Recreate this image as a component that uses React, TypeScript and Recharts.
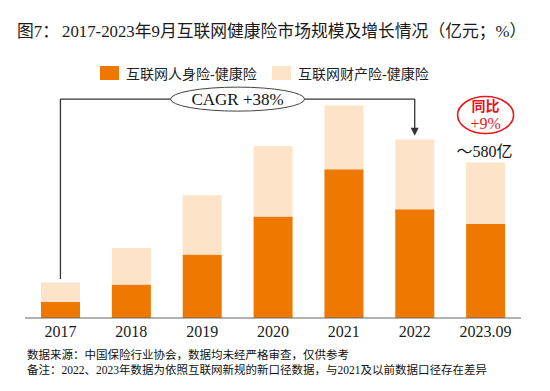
import React from 'react';
import { BarChart, Bar, XAxis, YAxis, ReferenceLine, ReferenceDot } from 'recharts';

// Categories
const years = ['2017', '2018', '2019', '2020', '2021', '2022', '2023.09'];
// 互联网人身险-健康险 (亿元)
const lifeHealth = [60, 125, 237, 378, 555, 405, 350];
// 互联网财产险-健康险 (亿元)
const propertyHealth = [72, 136, 221, 263, 237, 260, 230];

// Series names
const seriesNames = ['互联网人身险-健康险', '互联网财产险-健康险'];

// Annotation anchor values (data units)
const cagrStartValue = 145;
const cagrLineValue = 816;
const cagrArrowValue = 679;
const yoyValue = 751;
const totalLabelValue = 621;

const titlePrefix = '图7：';
const titleMain = '2017-2023年9月互联网健康险市场规模及增长情况（亿元；%）';
const note1 = '数据来源：中国保险行业协会，数据均未经严格审查，仅供参考';
const note2 = '备注：2022、2023年数据为依照互联网新规的新口径数据，与2021及以前数据口径存在差异';

const ORANGE = '#EF7800';
const LIGHT = '#FDE4C9';
const SERIF = "'Liberation Serif', 'Noto Sans CJK SC', serif";

const data = years.map((y, i) => ({ year: y, life: lifeHealth[i], property: propertyHealth[i] }));

const VLine = (props: any) => {
  const { x1, y1, x2, y2 } = props;
  return <line x1={x1} y1={y1} x2={x2} y2={y2} stroke="#333" strokeWidth={1.3} />;
};

const HLineWithOval = (props: any) => {
  const { x1, y1, x2, y2 } = props;
  const cx = (x1 + x2) / 2;
  return (
    <g>
      <line x1={x1} y1={y1} x2={x2} y2={y2} stroke="#333" strokeWidth={1.3} />
      <ellipse cx={cx} cy={y1} rx={67} ry={12} fill="#fff" stroke="#444" strokeWidth={1} />
      <text x={cx} y={y1} textAnchor="middle" dominantBaseline="central" fontSize={17} fontFamily={SERIF} fill="#111">
        CAGR +38%
      </text>
    </g>
  );
};

const ArrowLine = (props: any) => {
  const { x1, y1, x2, y2 } = props;
  return (
    <g>
      <line x1={x1} y1={y1} x2={x2} y2={y2 - 6} stroke="#333" strokeWidth={1.3} />
      <polygon points={`${x2 - 4},${y2 - 8} ${x2 + 4},${y2 - 8} ${x2},${y2}`} fill="#333" />
    </g>
  );
};

const YoyBadge = (props: any) => {
  const { cx, cy } = props;
  return (
    <g>
      <ellipse cx={cx} cy={cy - 1.5} rx={28} ry={18.5} fill="none" stroke="#E8141C" strokeWidth={1.6} />
      <text x={cx} y={cy - 11.5} textAnchor="middle" dominantBaseline="central" fontSize={14} fontWeight="bold" fontFamily="'Noto Sans CJK SC', sans-serif" fill="#E8141C">
        同比
      </text>
      <text x={cx} y={cy + 6.6} textAnchor="middle" dominantBaseline="central" fontSize={16} fontFamily={SERIF} fill="#E8141C">
        +9%
      </text>
    </g>
  );
};

const TotalLabel = (props: any) => {
  const { cx, cy } = props;
  return (
    <text x={cx - 1} y={cy} textAnchor="middle" dominantBaseline="central" fontSize={16} fontFamily={SERIF} fill="#111">
      ～580亿
    </text>
  );
};

export default function App() {
  return (
    <div style={{ position: 'absolute', left: 0, top: 0, width: 550, height: 391, background: '#fff', fontFamily: SERIF, color: '#222' }}>
      <div style={{ position: 'absolute', left: 0, top: 0 }}>
        <BarChart width={550} height={391} data={data} margin={{ top: 90, right: 29, bottom: 43, left: 25 }}>
          <XAxis
            dataKey="year"
            height={30}
            axisLine={{ stroke: '#666', strokeWidth: 1 }}
            tickLine={false}
            tick={{ fill: '#1a1a1a', fontSize: 16, fontFamily: SERIF }}
            interval={0}
          />
          <YAxis hide domain={[0, 850]} />
          <Bar dataKey="life" name={seriesNames[0]} stackId="a" fill={ORANGE} barSize={39} isAnimationActive={false} />
          <Bar dataKey="property" name={seriesNames[1]} stackId="a" fill={LIGHT} barSize={39} isAnimationActive={false} />
          <ReferenceLine
            ifOverflow="visible"
            segment={[{ x: years[0], y: cagrStartValue }, { x: years[0], y: cagrLineValue }]}
            shape={VLine}
          />
          <ReferenceLine
            ifOverflow="visible"
            segment={[{ x: years[0], y: cagrLineValue }, { x: years[5], y: cagrLineValue }]}
            shape={HLineWithOval}
          />
          <ReferenceLine
            ifOverflow="visible"
            segment={[{ x: years[5], y: cagrLineValue }, { x: years[5], y: cagrArrowValue }]}
            shape={ArrowLine}
          />
          <ReferenceDot x={years[6]} y={yoyValue} ifOverflow="visible" shape={YoyBadge} />
          <ReferenceDot x={years[6]} y={totalLabelValue} ifOverflow="visible" shape={TotalLabel} />
        </BarChart>
      </div>
      <div style={{ position: 'absolute', left: 17, top: 21, fontSize: 16.8, lineHeight: '21px', whiteSpace: 'nowrap', color: '#1a1a1a' }}>
        <span style={{ display: 'inline-block', width: 45 }}>{titlePrefix}</span>
        <span>{titleMain}</span>
      </div>
      <div style={{ position: 'absolute', left: 100, top: 63, height: 20, display: 'flex', alignItems: 'center', fontSize: 14, whiteSpace: 'nowrap' }}>
        <span style={{ display: 'inline-block', width: 19, height: 14, background: ORANGE }} />
        <span style={{ marginLeft: 7, width: 146 }}>{seriesNames[0]}</span>
        <span style={{ display: 'inline-block', width: 19, height: 14, background: LIGHT }} />
        <span style={{ marginLeft: 7 }}>{seriesNames[1]}</span>
      </div>
      <div style={{ position: 'absolute', left: 27, top: 348, fontSize: 11.5, lineHeight: '15px', whiteSpace: 'nowrap', color: '#111' }}>
        <div>{note1}</div>
        <div>{note2}</div>
      </div>
    </div>
  );
}
